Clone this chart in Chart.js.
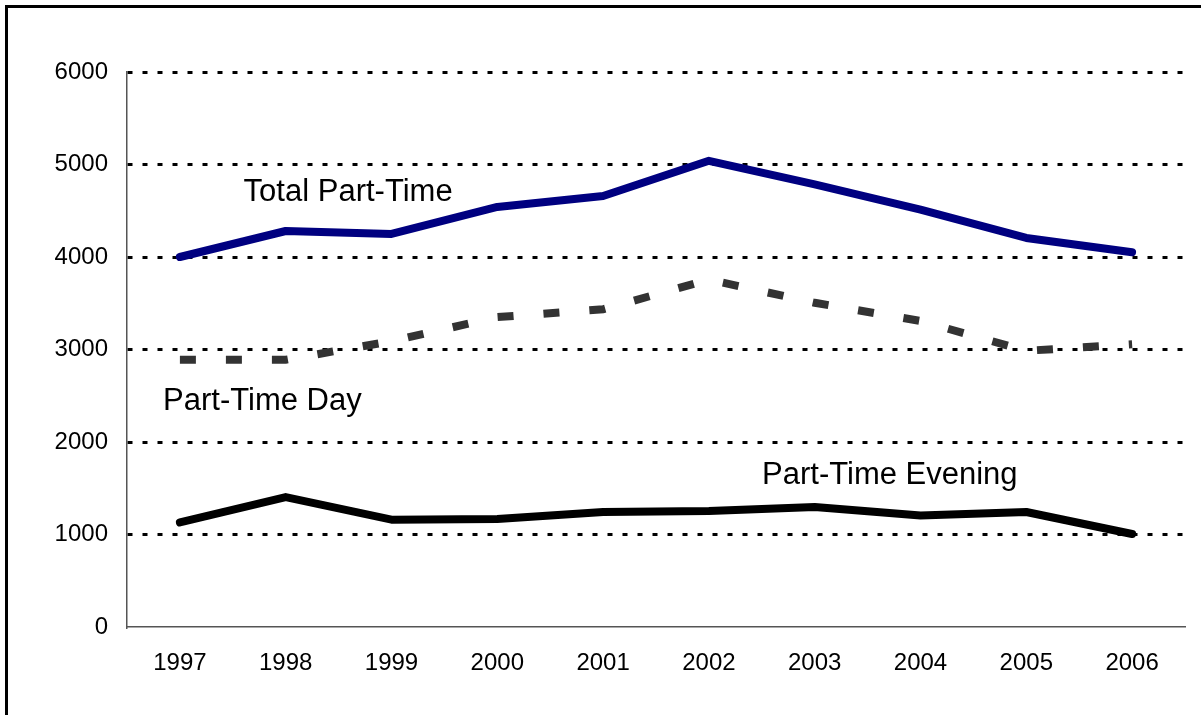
<!DOCTYPE html>
<html>
<head>
<meta charset="utf-8">
<script src="https://cdn.jsdelivr.net/npm/chart.js@4"></script>
<style>
    body { margin: 0; background: #fff; overflow: hidden; }
    #wrap { position: relative; width: 1201px; height: 715px; }
    #frame { position: absolute; left: 5px; top: 5px; width: 1400px; height: 900px; border: 3px solid #000; pointer-events: none; }
</style>
</head>
<body>
<div id="wrap">
    <canvas id="line_chart" width="1201" height="715"></canvas>
    <div id="frame"></div>
</div>
<script>
const years = ['1997', '1998', '1999', '2000', '2001', '2002', '2003', '2004', '2005', '2006'];
const totalPartTime = [4000, 4281, 4249, 4541, 4659, 5040, 4786, 4512, 4206, 4052];
const partTimeDay = [2889, 2889, 3090, 3350, 3435, 3756, 3505, 3308, 2986, 3057];
const partTimeEvening = [1130, 1405, 1160, 1168, 1243, 1254, 1297, 1205, 1243, 1005];
const yTicks = [0, 1000, 2000, 3000, 4000, 5000, 6000];

// series captions, placed at (category index, value)
const captions = [
    { text: 'Total Part-Time', x: 1.59, y: 4703 },
    { text: 'Part-Time Day', x: 0.78, y: 2443 },
    { text: 'Part-Time Evening', x: 6.71, y: 1643 }
];

const fontFamily = '"Liberation Sans", Arial, sans-serif';

const captionPlugin = {
    id: 'captions',
    afterDatasetsDraw(chart) {
        const ctx = chart.ctx;
        const xs = chart.scales.x;
        const ys = chart.scales.y;
        const step = xs.getPixelForValue(1) - xs.getPixelForValue(0);
        ctx.save();
        ctx.font = '31px ' + fontFamily;
        ctx.fillStyle = '#000';
        ctx.textAlign = 'center';
        ctx.textBaseline = 'middle';
        captions.forEach(c => {
            const px = xs.getPixelForValue(0) + step * c.x;
            ctx.fillText(c.text, px, ys.getPixelForValue(c.y));
        });
        ctx.restore();
    }
};

const lineData = {
    labels: years,
    datasets: [
        {
            label: 'Total Part-Time',
            data: totalPartTime,
            borderColor: '#000080',
            borderWidth: 8,
            borderCapStyle: 'round',
            borderJoinStyle: 'round'
        },
        {
            label: 'Part-Time Day',
            data: partTimeDay,
            borderColor: '#333333',
            borderWidth: 8,
            borderDash: [16, 30],
            borderCapStyle: 'butt'
        },
        {
            label: 'Part-Time Evening',
            data: partTimeEvening,
            borderColor: '#000000',
            borderWidth: 8,
            borderCapStyle: 'round',
            borderJoinStyle: 'round'
        }
    ]
};

const lineConfig = {
    type: 'line',
    data: lineData,
    options: {
        responsive: false,
        animation: false,
        layout: { padding: { top: 72, right: 16, left: 0, bottom: 0 } },
        elements: {
            point: { radius: 0, hoverRadius: 0 },
            line: { tension: 0, fill: false }
        },
        plugins: {
            legend: { display: false },
            tooltip: { enabled: false }
        },
        scales: {
            x: {
                offset: true,
                grid: { display: false, drawTicks: false },
                border: { display: true, color: '#555', width: 1.5 },
                ticks: {
                    color: '#000',
                    padding: 22,
                    maxRotation: 0,
                    font: { family: fontFamily, size: 24 }
                },
                afterFit: scale => { scale.height = 88; }
            },
            y: {
                min: 0,
                max: 6000,
                afterBuildTicks: scale => {
                    scale.ticks = yTicks.map(v => ({ value: v }));
                },
                grid: {
                    drawTicks: false,
                    lineWidth: 3,
                    color: c => c.tick && c.tick.value === 0 ? 'rgba(0,0,0,0)' : '#000'
                },
                border: { display: true, color: '#555', width: 1.5, dash: [5, 10] },
                ticks: {
                    color: '#000',
                    padding: 19,
                    font: { family: fontFamily, size: 24 },
                    callback: v => String(v)
                },
                afterFit: scale => { scale.width = 127; }
            }
        }
    },
    plugins: [captionPlugin]
};

let line_chart = new Chart(
    document.getElementById('line_chart'),
    lineConfig
);
</script>
</body>
</html>
